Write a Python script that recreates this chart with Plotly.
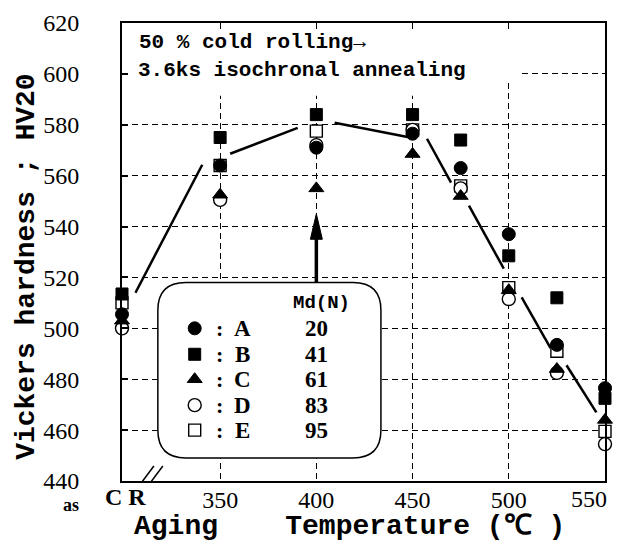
import plotly.graph_objects as go

# ---------------- data ----------------
temp_labels = ["as CR", "350", "400", "450", "475", "500", "525", "550"]
temp_pos = [299, 350, 400, 450, 475, 500, 525, 550]   # "as CR" sits on the left frame

hv_A = [505.5, 564, 571, 576.5, 563, 537, 493.5, 476.5]
hv_B = [513.5, 575, 584, 584, 574, 528.5, 512, 472.5]
hv_C = [503, 552.5, 555, 568.5, 552, 515, 484, 464]
hv_D = [500, 550.5, 572, 578, 555, 511.5, 482.5, 454.5]
hv_E = [510, 564, 577.5, 578, 556, 516, 491, 459.5]

steel_names = ["A", "B", "C", "D", "E"]
md_values = [20, 41, 61, 83, 95]

# hand-drawn trend line (broken around the markers)
trend_T = [306, 340.7, None, 355.2, 390.3, None, 409.5, 449.4, None, 457.5, 470, None,
           479.3, 497.4, None, 506.7, 521.7, None, 530, 545.5]
trend_HV = [514, 564.3, None, 568.6, 578.8, None, 580.8, 574.9, None, 574.5, 557.3, None,
            548.2, 523.5, None, 512.2, 492.2, None, 485.5, 467]

x_tick_vals = [350, 400, 450, 500]
y_tick_vals = [440, 460, 480, 500, 520, 540, 560, 580, 600, 620]
arrow_tip_hv = 545

# ---------------- geometry helpers ----------------
L, R, T, B = 122, 607, 22, 481
X0, X1, Y0, Y1 = 299, 550, 440, 620


def dx(px):
    return X0 + (px - L) / (R - L) * (X1 - X0)


def dy(py):
    return Y0 + (B - py) / (B - T) * (Y1 - Y0)


def paper_x(px):
    return (px - L) / (R - L)


def paper_y(py):
    return (B - py) / (B - T)


styles = {
    "A": dict(symbol="circle", size=13, color="black", line=dict(color="black", width=1)),
    "B": dict(symbol="square", size=12, color="black", line=dict(color="black", width=1)),
    "C": dict(symbol="triangle-up", size=13, color="black", line=dict(color="black", width=1)),
    "D": dict(symbol="circle", size=13, color="white", line=dict(color="black", width=1.4)),
    "E": dict(symbol="square", size=12, color="white", line=dict(color="black", width=1.4)),
}
series = {"A": hv_A, "B": hv_B, "C": hv_C, "D": hv_D, "E": hv_E}

fig = go.Figure()

fig.add_trace(go.Scatter(x=trend_T, y=trend_HV, mode="lines",
                         line=dict(color="black", width=2.5),
                         showlegend=False, hoverinfo="skip", connectgaps=False))

for name in ["E", "D", "C", "A", "B"]:
    fig.add_trace(go.Scatter(x=temp_pos, y=series[name], mode="markers",
                             marker=styles[name], name=name, showlegend=False,
                             cliponaxis=False))

# legend-box symbols
row_py = [328, 354, 379, 405, 430]
for i, name in enumerate(steel_names):
    fig.add_trace(go.Scatter(x=[dx(195)], y=[dy(row_py[i])], mode="markers",
                             marker=styles[name], showlegend=False, hoverinfo="skip"))

shapes = []
# white cover behind the header text
shapes.append(dict(type="rect", xref="x", yref="y", x0=dx(124), x1=dx(520), y0=dy(82), y1=dy(30),
                   fillcolor="white", line=dict(width=0), layer="between"))
shapes.append(dict(type="rect", xref="x", yref="y", x0=dx(124), x1=dx(440), y0=dy(95), y1=dy(82),
                   fillcolor="white", line=dict(width=0), layer="between"))

# rounded legend box
bx0, bx1, by0, by1, rr = 158, 382, 282, 458, 28


def P(px, py):
    return f"{dx(px)},{dy(py)}"


path = (f"M {P(bx0 + rr, by0)} L {P(bx1 - rr, by0)} Q {P(bx1, by0)} {P(bx1, by0 + rr)} "
        f"L {P(bx1, by1 - rr)} Q {P(bx1, by1)} {P(bx1 - rr, by1)} "
        f"L {P(bx0 + rr, by1)} Q {P(bx0, by1)} {P(bx0, by1 - rr)} "
        f"L {P(bx0, by0 + rr)} Q {P(bx0, by0)} {P(bx0 + rr, by0)} Z")
shapes.append(dict(type="path", xref="x", yref="y", path=path, fillcolor="white",
                   line=dict(color="black", width=1.5), layer="between"))

# arrow pointing at the 400 degC C point
shapes.append(dict(type="line", xref="x", yref="y", x0=400, x1=400, y0=dy(by0), y1=arrow_tip_hv - 8,
                   line=dict(color="black", width=3.5), layer="above"))
hw = 6 / (R - L) * (X1 - X0)
shapes.append(dict(type="path", xref="x", yref="y",
                   path=f"M {400 - hw},{arrow_tip_hv - 10} L {400 + hw},{arrow_tip_hv - 10} L 400,{arrow_tip_hv} Z",
                   fillcolor="black", line=dict(color="black", width=1), layer="above"))

# axis break on the bottom frame
shapes.append(dict(type="rect", xref="x", yref="y", x0=dx(139), x1=dx(167), y0=dy(486), y1=dy(476),
                   fillcolor="white", line=dict(width=0), layer="above"))
shapes.append(dict(type="line", xref="x", yref="y", x0=dx(142), y0=dy(482), x1=dx(154), y1=dy(466),
                   line=dict(color="black", width=1.5), layer="above"))
shapes.append(dict(type="line", xref="x", yref="y", x0=dx(151), y0=dy(482), x1=dx(163), y1=dy(466),
                   line=dict(color="black", width=1.5), layer="above"))

annotations = []
mono = "Liberation Mono"
serif = "Liberation Serif"


def ann(text, px, py, family, size, xanchor="center", angle=0):
    return dict(text=text, x=paper_x(px), y=paper_y(py), xref="paper", yref="paper",
                xanchor=xanchor, yanchor="middle", showarrow=False, textangle=angle,
                font=dict(family=family, size=size, color="black"))


annotations.append(ann("<b>50 % cold rolling→</b>", 137, 42, mono, 21, "left"))
annotations.append(ann("<b>3.6ks isochronal annealing</b>", 136, 70, mono, 21, "left"))

# legend box texts
annotations.append(ann("<b>Md(N)</b>", 322, 303, mono, 19))
for i, name in enumerate(steel_names):
    annotations.append(ann("<b>:</b>", 220, row_py[i], serif, 22))
    annotations.append(ann(f"<b>{name}</b>", 243, row_py[i], serif, 23))
    annotations.append(ann(f"<b>{md_values[i]}</b>", 317, row_py[i], serif, 23))

# axis titles
annotations.append(ann("<b>Vickers hardness ; HV20</b>", 26, 266, mono, 28, angle=-90))
annotations.append(ann("<b>Aging    Temperature (℃ )</b>", 350, 527, mono, 28))

# "as CR" and "550" tick labels
annotations.append(ann("<b>as</b>", 71, 505, serif, 18))
annotations.append(ann("<b>C R</b>", 126, 497, serif, 24))
annotations.append(ann(temp_labels[-1], 611, 499, serif, 24, "right"))

fig.update_layout(
    width=617, height=549,
    margin=dict(l=L, r=617 - R, t=T, b=549 - B),
    paper_bgcolor="white", plot_bgcolor="white",
    shapes=shapes, annotations=annotations,
    showlegend=False,
    xaxis=dict(range=[X0, X1], tickvals=x_tick_vals,
               ticktext=[temp_labels[temp_pos.index(v)] for v in x_tick_vals],
               showgrid=True, gridcolor="black", gridwidth=1, griddash="6px,4px",
               showline=True, linecolor="black", linewidth=2, mirror=True,
               ticks="", zeroline=False, ticklabelstandoff=-4,
               tickfont=dict(family=serif, size=24, color="black")),
    yaxis=dict(range=[Y0, Y1], tickvals=y_tick_vals,
               showgrid=True, gridcolor="black", gridwidth=1, griddash="6px,4px",
               showline=True, linecolor="black", linewidth=2, mirror=True,
               ticks="inside", ticklen=6, tickwidth=1.5, tickcolor="black",
               zeroline=False, ticklabelstandoff=36,
               tickfont=dict(family=serif, size=24, color="black")),
)

fig.write_html("out.html", config={"displayModeBar": False},
               post_script="document.body.style.margin='0';")
